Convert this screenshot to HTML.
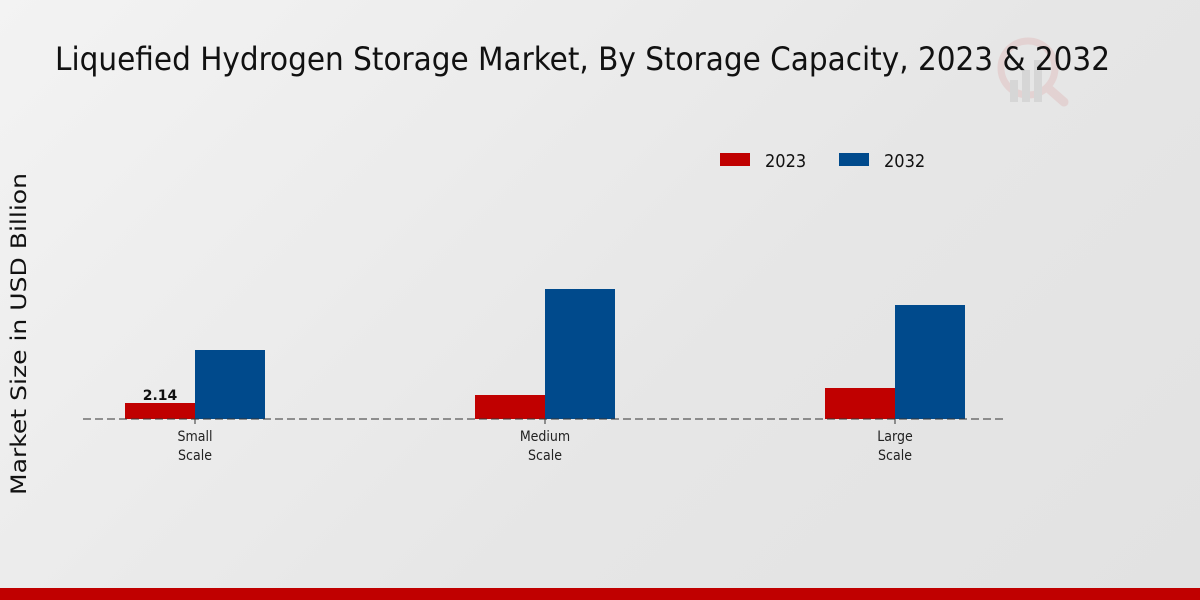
<!DOCTYPE html>
<html><head><style>
html,body{margin:0;padding:0;}
body{width:1200px;height:600px;overflow:hidden;background:linear-gradient(135deg,#f3f3f3 0%,#e6e6e6 60%,#e2e2e2 100%);font-family:"DejaVu Sans","Liberation Sans",sans-serif;}
</style></head><body>
<svg width="1200" height="600" xmlns="http://www.w3.org/2000/svg" style="position:absolute;left:0;top:0">
<g opacity="0.25">
<circle cx="1028" cy="68" r="27" fill="none" stroke="#d99" stroke-width="7"/>
<line x1="1048" y1="88" x2="1064" y2="102" stroke="#d99" stroke-width="9" stroke-linecap="round"/>
<rect x="1010" y="80" width="8" height="22" fill="#aaa"/>
<rect x="1022" y="70" width="8" height="32" fill="#aaa"/>
<rect x="1034" y="60" width="8" height="42" fill="#aaa"/>
</g>
<text x="55" y="70" font-size="32" font-family="DejaVu Sans Condensed, DejaVu Sans, sans-serif" font-stretch="condensed" textLength="1055" lengthAdjust="spacingAndGlyphs" fill="#111">Liquefied Hydrogen Storage Market, By Storage Capacity, 2023 &amp; 2032</text>
<rect x="720" y="153" width="30" height="13" fill="#c00000"/>
<text x="765" y="167" font-size="18" font-family="DejaVu Sans Condensed, DejaVu Sans, sans-serif" font-stretch="condensed" fill="#111">2023</text>
<rect x="839" y="153" width="30" height="13" fill="#004a8c"/>
<text x="884" y="167" font-size="18" font-family="DejaVu Sans Condensed, DejaVu Sans, sans-serif" font-stretch="condensed" fill="#111">2032</text>
<text transform="translate(26,334) rotate(-90)" text-anchor="middle" font-size="21" textLength="322" lengthAdjust="spacingAndGlyphs" fill="#111">Market Size in USD Billion</text>
<rect x="125" y="403" width="70" height="16" fill="#c00000"/>
<rect x="195" y="350" width="70" height="69" fill="#004a8c"/>
<rect x="475" y="395" width="70" height="24" fill="#c00000"/>
<rect x="545" y="289" width="70" height="130" fill="#004a8c"/>
<rect x="825" y="388" width="70" height="31" fill="#c00000"/>
<rect x="895" y="305" width="70" height="114" fill="#004a8c"/>
<line x1="83" y1="419" x2="1007" y2="419" stroke="#333" stroke-width="1" stroke-dasharray="8,4"/>
<g stroke="#333"><line x1="195" y1="419" x2="195" y2="424"/><line x1="545" y1="419" x2="545" y2="424"/><line x1="895" y1="419" x2="895" y2="424"/></g>
<text x="160" y="400" text-anchor="middle" font-size="14" font-weight="bold" fill="#111">2.14</text>
<g font-size="14" text-anchor="middle" fill="#222" font-family="DejaVu Sans Condensed, DejaVu Sans, sans-serif" font-stretch="condensed">
<text x="195" y="441">Small</text><text x="195" y="460">Scale</text>
<text x="545" y="441">Medium</text><text x="545" y="460">Scale</text>
<text x="895" y="441">Large</text><text x="895" y="460">Scale</text>
</g>
<rect x="0" y="588" width="1200" height="12" fill="#c00000"/>
</svg>
</body></html>
